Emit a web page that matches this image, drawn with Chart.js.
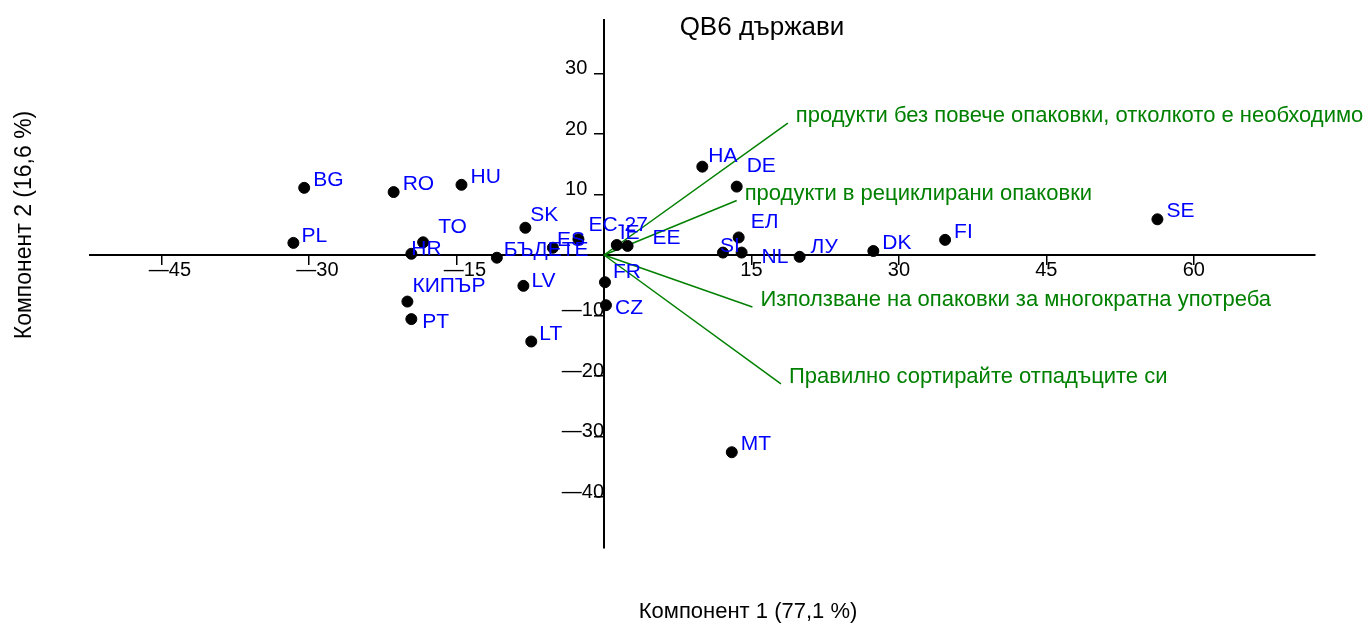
<!DOCTYPE html>
<html><head><meta charset="utf-8">
<script src="https://cdn.jsdelivr.net/npm/chart.js@4/dist/chart.umd.min.js"></script>
<style>html,body{margin:0;padding:0;background:#fff}#wrap{width:1371px;height:625px;position:relative}</style>
</head><body><div id="wrap"><canvas id="c" width="1371" height="625"></canvas></div>
<script>
const countries = ['BG','RO','HU','PL','TO','HR','SK','БЪДЕТЕ','ES','EC-27','IE','EE','FR','CZ','КИПЪР','PT','LV','LT','HA','DE','ЕЛ','SI','NL','ЛУ','DK','FI','SE','MT'];
const comp1 = [-30.5,-21.4,-14.5,-31.6,-18.4,-19.6,-8.0,-10.9,-5.2,-2.6,1.3,2.4,0.1,0.2,-20.0,-19.6,-8.2,-7.4,10.0,13.5,13.7,12.1,14.0,19.9,27.4,34.7,56.3,13.0];
const comp2 = [11.1,10.4,11.6,2.0,2.1,0.2,4.5,-0.45,1.2,2.6,1.65,1.5,-4.5,-8.3,-7.7,-10.6,-5.1,-14.3,14.6,11.3,2.9,0.4,0.4,-0.3,0.66,2.5,5.9,-32.6];
const variables = ['продукти без повече опаковки, отколкото е необходимо','продукти в рециклирани опаковки','Използване на опаковки за многократна употреба','Правилно сортирайте отпадъците си'];
const varComp1 = [18.7,13.5,15.1,18.0];
const varComp2 = [21.8,9.0,-8.6,-21.3];
const xTicks = [-45,-30,-15,15,30,45,60];
const yTicks = [-40,-30,-20,-10,10,20,30];
const chartTitle = 'QB6 държави';
const xTitle = 'Компонент 1 (77,1 %)';
const yTitle = 'Компонент 2 (16,6 %)';

const FONT = '"Liberation Sans", Arial, sans-serif';
const GREEN = '#008000';
const BLUE = '#0000ff';

// label nudges (pixels relative to point), default [9,-8]
const nudge = {SK:[5,-13],TO:[15,-15],HR:[0,-5],'БЪДЕТЕ':[7,-8],ES:[4,-8],'EC-27':[10,-14],IE:[3,-12],EE:[25,-8],FR:[8,-10],CZ:[9,3],'КИПЪР':[5,-15],PT:[11,3],LV:[8,-5],LT:[8,-7],HA:[6,-10],DE:[10,-20],'ЕЛ':[12,-15],SI:[-3,-6],NL:[20,5],'ЛУ':[11,-10],PL:[8,-7]};

const datasets = [];
variables.forEach((v,i)=>{
  datasets.push({type:'line',label:v,data:[{x:0,y:0},{x:varComp1[i],y:varComp2[i]}],borderColor:GREEN,borderWidth:1.5,pointRadius:0,fill:false,tension:0,order:2});
});
datasets.push({type:'scatter',label:'countries',data:countries.map((c,i)=>({x:comp1[i],y:comp2[i]})),backgroundColor:'#000',borderColor:'#000',pointRadius:5.5,pointHoverRadius:5.5,order:1});

const textPlugin = {
  id:'texts',
  afterDatasetsDraw(chart){
    const ctx = chart.ctx;
    ctx.save();
    ctx.textBaseline='middle';
    ctx.textAlign='left';
    ctx.font = '21px '+FONT;
    const sMeta = chart.getDatasetMeta(variables.length);
    countries.forEach((c,i)=>{
      const p = sMeta.data[i];
      const n = nudge[c] || [9,-8];
      ctx.fillStyle = BLUE;
      ctx.fillText(c, p.x+n[0], p.y+n[1]);
    });
    ctx.fillStyle = GREEN;
    ctx.font = '22px '+FONT;
    variables.forEach((v,i)=>{
      const m = chart.getDatasetMeta(i);
      const p = m.data[1];
      ctx.fillText(v, p.x+8, p.y-7);
    });
    ctx.fillStyle='#000';
    ctx.textAlign='center';
    ctx.font='26px '+FONT;
    ctx.fillText(chartTitle, 762, 28);
    ctx.font='22px '+FONT;
    ctx.fillText(xTitle, 748, 612);
    ctx.font='23px '+FONT;
    ctx.translate(25,225);
    ctx.rotate(-Math.PI/2);
    ctx.fillText(yTitle, 0, 0);
    ctx.restore();
  }
};

const fmtX = v => v < 0 ? '   \u2014' + Math.abs(v) : String(v);
const fmtY = v => v < 0 ? '\u2014' + Math.abs(v) : String(v) + '   ';

new Chart(document.getElementById('c'), {
  data:{datasets},
  options:{
    responsive:false,
    animation:false,
    events:[],
    layout:{padding:{left:90,right:56,top:20,bottom:77}},
    plugins:{legend:{display:false},tooltip:{enabled:false},title:{display:false}},
    scales:{
      x:{type:'linear',position:{y:0},min:-52.29,max:72.33,
        afterBuildTicks:s=>{s.ticks = xTicks.map(v=>({value:v}));},
        grid:{drawOnChartArea:false,drawTicks:true,tickLength:9,color:'#000',lineWidth:1.5},
        border:{display:true,color:'#000',width:2},
        ticks:{color:'#000',font:{family:FONT,size:20},padding:-6,maxRotation:0,autoSkip:false,callback:v=>fmtX(v)}},
      y:{type:'linear',position:{x:0},min:-48.43,max:38.84,
        afterBuildTicks:s=>{s.ticks = yTicks.map(v=>({value:v}));},
        grid:{drawOnChartArea:false,drawTicks:true,tickLength:9,color:'#000',lineWidth:1.5},
        border:{display:true,color:'#000',width:2},
        ticks:{color:'#000',font:{family:FONT,size:20},padding:4,labelOffset:-5,autoSkip:false,callback:v=>fmtY(v)}}
    }
  },
  plugins:[textPlugin]
});
</script></body></html>
